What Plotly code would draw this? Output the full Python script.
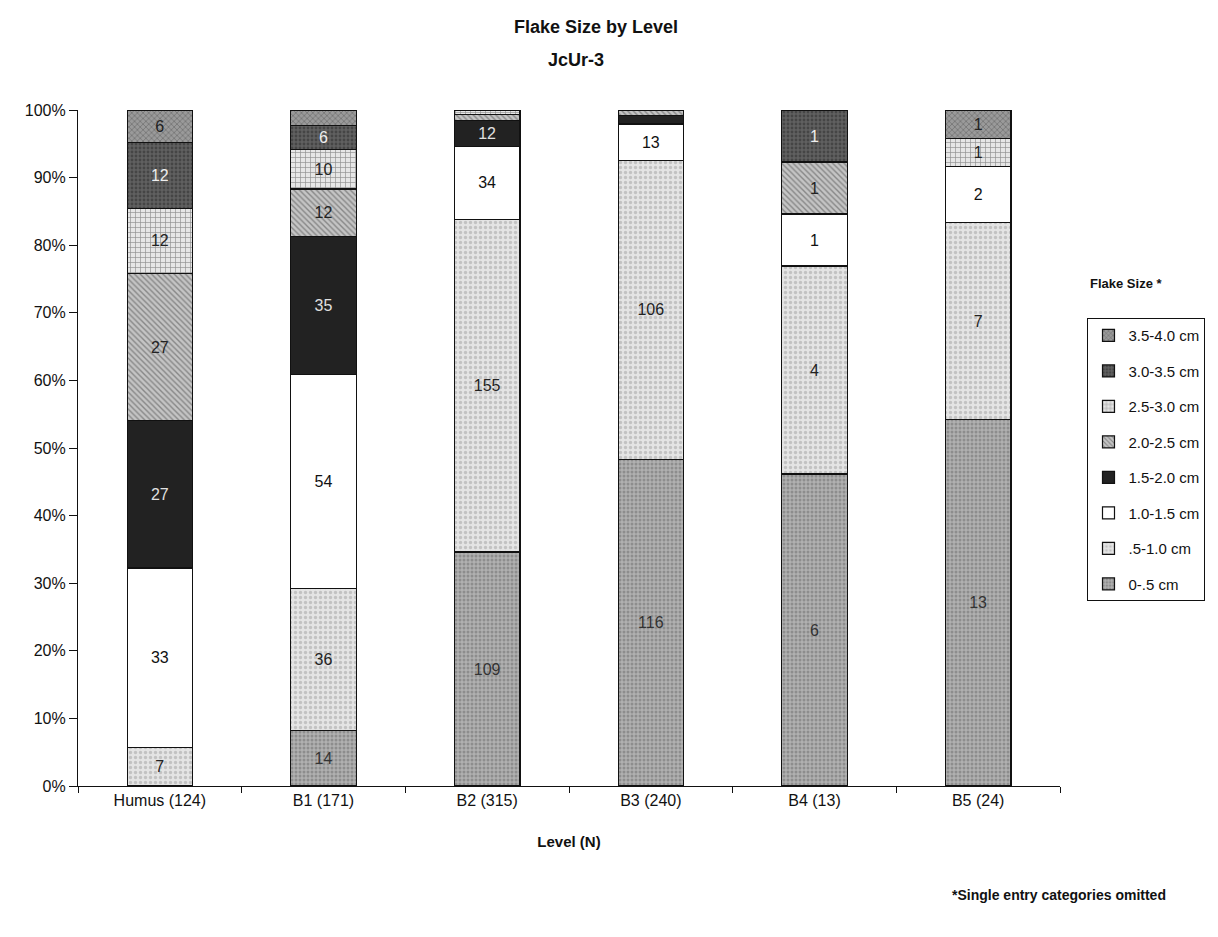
import plotly.graph_objects as go

# Excavation levels with flake counts (N)
levels = ["Humus (124)", "B1 (171)", "B2 (315)", "B3 (240)", "B4 (13)", "B5 (24)"]

# Flake counts per size class, one value per level
size_0_05 = [0, 14, 109, 116, 6, 13]
size_05_10 = [7, 36, 155, 106, 4, 7]
size_10_15 = [33, 54, 34, 13, 1, 2]
size_15_20 = [27, 35, 12, 3, 0, 0]
size_20_25 = [27, 12, 3, 2, 1, 0]
size_25_30 = [12, 10, 2, 0, 0, 1]
size_30_35 = [12, 6, 0, 0, 1, 0]
size_35_40 = [6, 4, 0, 0, 0, 1]

size_names = ["0-.5 cm", ".5-1.0 cm", "1.0-1.5 cm", "1.5-2.0 cm",
              "2.0-2.5 cm", "2.5-3.0 cm", "3.0-3.5 cm", "3.5-4.0 cm"]
size_counts = [size_0_05, size_05_10, size_10_15, size_15_20,
               size_20_25, size_25_30, size_30_35, size_35_40]

# Fill style for each size class: (pattern shape, foreground, background, pattern size, solidity, label colour)
fills = [
    (".", "#6a6a6a", "#b0b0b0", 4, 0.45, "#333333"),
    (".", "#a0a0a0", "#e4e4e4", 5, 0.35, "#222222"),
    ("", "#ffffff", "#ffffff", 6, 0.3, "#111111"),
    ("", "#222222", "#222222", 6, 0.3, "#e0e0e0"),
    ("\\", "#4a4a4a", "#c4c4c4", 4, 0.35, "#222222"),
    ("+", "#3a3a3a", "#e6e6e6", 5, 0.25, "#222222"),
    (".", "#2a2a2a", "#606060", 4, 0.4, "#eeeeee"),
    ("x", "#3a3a3a", "#9a9a9a", 4, 0.3, "#222222"),
]

font_family = "Liberation Sans, Arial, sans-serif"

fig = go.Figure()
for i, (name, counts, (shape, fg, bg, psize, solid, tcol)) in enumerate(
        zip(size_names, size_counts, fills)):
    fig.add_trace(go.Bar(
        name=name,
        x=levels,
        y=counts,
        text=[str(v) if v else "" for v in counts],
        textposition="inside",
        insidetextanchor="middle",
        textangle=0,
        textfont=dict(family=font_family, size=16, color=tcol),
        marker=dict(
            color=bg,
            line=dict(color="#111111", width=1.2),
            pattern=dict(shape=shape, fgcolor=fg, bgcolor=bg, size=psize, solidity=solid),
        ),
        legendgroup=name,
        legendrank=100 - i,
        hovertemplate="%{x}<br>" + name + ": %{y}<extra></extra>",
    ))

fig.update_layout(
    barmode="stack",
    barnorm="percent",
    bargap=0.6,
    width=1218,
    height=937,
    margin=dict(l=78, r=156, t=110, b=151),
    paper_bgcolor="white",
    plot_bgcolor="white",
    font=dict(family=font_family, size=16, color="#111111"),
    uniformtext=dict(minsize=14, mode="hide"),
    showlegend=True,
    legend=dict(
        x=1.028, y=0.692, xanchor="left", yanchor="top",
        traceorder="grouped",
        tracegroupgap=13,
        bordercolor="#111111", borderwidth=1,
        bgcolor="white",
        font=dict(family=font_family, size=15, color="#111111"),
    ),
    xaxis=dict(
        showline=True, linecolor="#111111", linewidth=1.2,
        ticks="outside", ticklen=6, tickcolor="#111111",
        tickson="boundaries",
        tickfont=dict(size=16),
        title=dict(text="<b>Level (N)</b>", font=dict(size=15), standoff=28),
        showgrid=False,
    ),
    yaxis=dict(
        range=[0, 100],
        dtick=10,
        ticksuffix="%",
        showline=True, linecolor="#111111", linewidth=1.2,
        ticks="outside", ticklen=8, tickcolor="#111111",
        tickfont=dict(size=16),
        showgrid=False, zeroline=False,
    ),
    annotations=[
        dict(text="<b>Flake Size by Level</b>", xref="paper", yref="paper",
             x=(597 - 78) / 984, y=1 + (110 - 27) / 676, xanchor="center", yanchor="middle",
             showarrow=False, font=dict(size=18)),
        dict(text="<b>JcUr-3</b>", xref="paper", yref="paper",
             x=(577 - 78) / 984, y=1 + (110 - 60) / 676, xanchor="center", yanchor="middle",
             showarrow=False, font=dict(size=18)),
        dict(text="<b>Flake Size *</b>", xref="paper", yref="paper",
             x=(1090 - 78) / 984, y=1 - (283 - 110) / 676, xanchor="left", yanchor="middle",
             showarrow=False, font=dict(size=13)),
        dict(text="<b>*Single entry categories omitted</b>", xref="paper", yref="paper",
             x=(1170 - 78) / 984, y=1 - (895 - 110) / 676, xanchor="right", yanchor="middle",
             showarrow=False, font=dict(size=14)),
    ],
)

fig.write_html("out.html")
